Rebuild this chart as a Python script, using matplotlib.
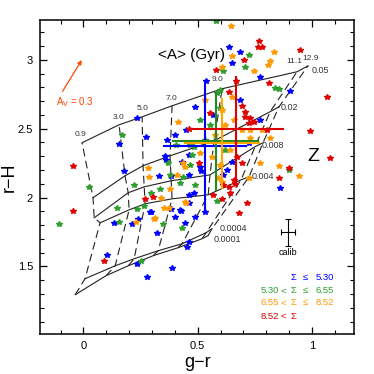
import matplotlib
matplotlib.use('Agg')
import matplotlib.pyplot as plt
from matplotlib.ticker import MultipleLocator

plt.rcParams['font.family'] = ['Liberation Sans', 'DejaVu Sans']

ages = ['0.9', '3.0', '5.0', '7.0', '9.0', '11.1', '12.9']
metals = ['0.0001', '0.0004', '0.004', '0.008', '0.02', '0.05']

# model grid, one row per metallicity, one column per age
grid_gr = [
    [-0.036, 0.099, 0.196, 0.305, 0.414, 0.519, 0.545],
    [0.007, 0.139, 0.222, 0.327, 0.432, 0.537, 0.563],
    [0.073, 0.200, 0.270, 0.388, 0.546, 0.690, 0.725],
    [0.047, 0.196, 0.266, 0.384, 0.554, 0.751, 0.786],
    [0.042, 0.182, 0.261, 0.379, 0.572, 0.817, 0.856],
    [-0.006, 0.156, 0.257, 0.388, 0.607, 0.935, 0.983],
]
grid_rh = [
    [1.295, 1.433, 1.505, 1.578, 1.636, 1.701, 1.723],
    [1.411, 1.505, 1.556, 1.614, 1.665, 1.745, 1.774],
    [1.817, 1.911, 1.955, 1.991, 2.020, 2.129, 2.151],
    [1.853, 2.035, 2.078, 2.122, 2.165, 2.369, 2.398],
    [1.999, 2.158, 2.231, 2.303, 2.412, 2.623, 2.659],
    [2.398, 2.528, 2.586, 2.666, 2.790, 2.913, 2.956],
]

# galaxies, split by local density Sigma
blue_gr = [0.233, 0.157, 0.273, 0.178, 0.365, 0.357, 0.361, 0.332, 0.382, 0.463,
           0.635, 0.686, 0.650, 0.537, 0.774, 0.906, 0.489, 0.862, 0.686, 0.450,
           0.569, 0.774, 0.723, 0.431, 0.650, 0.628, 0.613, 0.460, 0.482, 0.489,
           0.533, 0.464, 0.445, 0.464, 0.134, 0.238, 0.211, 0.296, 0.384, 0.324,
           0.401, 0.425, 0.464, 0.102, 0.233, 0.277, 0.389, 0.455, 0.401, 0.511,
           0.515, 0.292, 0.423]
blue_rh = [2.579, 2.390, 2.443, 2.193, 2.419, 2.302, 2.273, 2.157, 2.159, 2.310,
           3.092, 3.060, 2.980, 2.847, 2.874, 2.770, 2.656, 2.068, 2.709, 2.491,
           2.600, 2.564, 2.395, 2.261, 2.261, 2.201, 2.164, 2.164, 2.031, 1.861,
           1.898, 1.680, 1.818, 1.959, 1.813, 1.844, 1.806, 1.893, 1.917, 1.741,
           1.857, 1.903, 2.019, 1.583, 1.515, 1.421, 1.491, 1.643, 2.455, 2.220,
           2.196, 1.898, 1.910]

green_gr = [0.169, 0.372, 0.423, 0.025, 0.221, 0.435, 0.580, 0.723, 0.613, 0.599,
            0.840, 0.854, 0.898, 0.708, 0.584, 0.599, 0.467, 0.482, 0.406, 0.467,
            0.489, 0.584, 0.431, 0.475, -0.109, 0.146, 0.233, 0.157, 0.265, 0.296,
            0.336, 0.350, 0.252, 0.379, 0.555, 0.533, 0.621, 0.511]
green_rh = [2.455, 2.254, 2.108, 2.077, 2.092, 2.152, 3.280, 3.036, 2.920, 2.782,
            2.794, 2.787, 2.201, 2.951, 2.758, 2.649, 2.382, 2.370, 2.382, 2.237,
            2.092, 1.975, 1.777, 2.310, 1.806, 1.927, 1.915, 1.823, 1.939, 2.031,
            2.060, 1.806, 1.541, 2.164, 2.528, 2.419, 2.346, 2.564]

orange_gr = [0.414, 0.436, 0.287, 0.379, 0.646, 0.650, 0.832, 0.815, 0.806, 0.745,
             0.606, 0.854, 0.771, 0.942, 0.650, 0.657, 0.694, 0.730, 0.782, 0.730,
             0.445, 0.562, 0.409, 0.818, 0.723, 0.606, 0.591, 0.450, 0.230, 0.340,
             0.354, 0.376, 0.311, 0.446, 0.511, 0.284, 0.314, 0.607, 0.621, 0.577,
             0.643, 0.599, 0.533]
orange_rh = [2.549, 2.254, 2.152, 2.063, 3.247, 3.024, 3.053, 2.988, 2.964, 2.920,
             2.951, 2.232, 2.249, 2.157, 2.733, 2.564, 2.491, 2.491, 2.491, 2.431,
             2.225, 2.297, 2.164, 2.431, 2.140, 2.111, 2.140, 1.963, 1.820, 1.995,
             1.927, 1.927, 1.844, 1.970, 2.322, 2.213, 1.850, 2.637, 2.528, 2.455,
             2.346, 2.237, 2.709]

red_gr = [-0.047, 0.463, 0.767, 0.762, 0.782, 0.950, 0.701, 0.581, 0.669, 0.811,
          1.064, 0.993, 1.078, 0.635, 0.694, 0.555, 0.708, 0.708, 0.730, 0.745,
          0.723, 0.804, 0.672, 0.694, 0.898, 0.635, 0.854, 0.716, 0.679, 0.606,
          0.569, 0.643, 0.613, 0.657, 0.270, 0.304, 0.090, 0.504, -0.047, 0.664]
red_rh = [2.230, 2.499, 3.133, 3.092, 3.092, 3.068, 3.000, 2.927, 2.847, 2.835,
          2.733, 2.486, 2.290, 2.765, 2.661, 2.613, 2.624, 2.588, 2.576, 2.552,
          2.540, 2.491, 2.297, 2.249, 2.213, 2.079, 2.145, 1.963, 1.886, 1.990,
          2.019, 2.031, 2.092, 2.128, 1.988, 2.007, 1.539, 2.249, 1.900, 2.099]

# mean and spread of each density bin
bin_gr = [0.532, 0.579, 0.607, 0.668]
bin_rh = [2.371, 2.407, 2.395, 2.499]
bin_gr_err = [0.182, 0.190, 0.166, 0.210]
bin_rh_err = [0.475, 0.356, 0.330, 0.381]

colors = ['#0000ff', '#2e9e2e', '#ff9900', '#e00000']
bar_colors = ['#0000ff', '#228b22', '#ffa500', '#dd0000']

fig = plt.figure(figsize=(3.74, 3.74), dpi=100)
ax = fig.add_axes([0.107, 0.107, 0.840, 0.840])

# metallicity tracks (solid) and isochrones (dashed)
for i in range(len(metals)):
    ax.plot(grid_gr[i], grid_rh[i], color='#222222', lw=0.8, zorder=1)
for j in range(len(ages)):
    ax.plot([row[j] for row in grid_gr], [row[j] for row in grid_rh],
            color='#222222', lw=0.8, dashes=(7, 4), zorder=1)

age_lab_x = [-0.012, 0.152, 0.257, 0.386, 0.588, 0.922, 0.992]
age_lab_y = [2.461, 2.584, 2.649, 2.722, 2.855, 2.990, 3.009]
for a, x, y in zip(ages, age_lab_x, age_lab_y):
    ax.text(x, y, a, fontsize=6, ha='center', va='center', color='#333333')

z_lab_x = [0.572, 0.598, 0.734, 0.782, 0.864, 0.999]
z_lab_y = [1.694, 1.774, 2.153, 2.378, 2.652, 2.920]
for z, x, y in zip(metals, z_lab_x, z_lab_y):
    ax.text(x, y, z, fontsize=6.5, ha='left', va='center', color='#333333')

for gr, rh, c in zip([blue_gr, green_gr, orange_gr, red_gr],
                     [blue_rh, green_rh, orange_rh, red_rh], colors):
    ax.plot(gr, rh, ls='none', marker='*', ms=3.8, color=c, mec=c, zorder=2)

for k in range(4):
    ax.errorbar(bin_gr[k], bin_rh[k], xerr=bin_gr_err[k], yerr=bin_rh_err[k],
                fmt='none', ecolor=bar_colors[k], elinewidth=1.5, capsize=0, zorder=3)

# calibration error
ax.errorbar(0.897, 1.748, xerr=0.031, yerr=0.10, fmt='none', ecolor='black',
            elinewidth=0.8, capsize=2, capthick=0.8)
ax.text(0.897, 1.60, 'calib', fontsize=6.5, ha='center', va='center')

# reddening vector
ax.annotate('', xy=(-0.001, 3.015), xytext=(-0.098, 2.753),
            arrowprops=dict(arrowstyle='-|>', color='#ff4500', lw=0.9,
                            mutation_scale=6))
ax.text(-0.119, 2.695, r'A$_\mathrm{V}$ = 0.3', fontsize=7, color='#ff4500',
        ha='left', va='center')

ax.text(0.471, 3.036, '<A> (Gyr)', fontsize=11, ha='center', va='center')
ax.text(1.005, 2.296, 'Z', fontsize=14, ha='center', va='center')

# density legend
rows = [['', '', 'Σ', '≤', '5.30'],
        ['5.30', '<', 'Σ', '≤', '6.55'],
        ['6.55', '<', 'Σ', '≤', '8.52'],
        ['8.52', '<', 'Σ', '', '']]
col_x = [0.731, 0.776, 0.807, 0.846, 0.907]
row_y = [0.179, 0.137, 0.099, 0.057]
for row, y, c in zip(rows, row_y, colors):
    for s, x in zip(row, col_x):
        ax.text(x, y, s, fontsize=6.8, color=c, ha='center', va='center',
                transform=ax.transAxes)

ax.set_xlim(-0.19, 1.185)
ax.set_ylim(1.01, 3.29)
ax.set_xticks([0, 0.5, 1])
ax.set_xticklabels(['0', '0.5', '1'])
ax.set_yticks([1.5, 2, 2.5, 3])
ax.set_yticklabels(['1.5', '2', '2.5', '3'])
ax.xaxis.set_minor_locator(MultipleLocator(0.1))
ax.yaxis.set_minor_locator(MultipleLocator(0.1))
ax.tick_params(which='both', direction='in', top=True, right=True, labelsize=8, pad=5)
ax.tick_params(which='major', length=5, width=0.9)
ax.tick_params(which='minor', length=3, width=0.8)
for s in ax.spines.values():
    s.set_linewidth(1.1)

ax.set_xlabel('g−r', fontsize=13)
ax.set_ylabel('r−H', fontsize=13)
ax.xaxis.set_label_coords(0.5, -0.065)
ax.yaxis.set_label_coords(-0.07, 0.5)

fig.savefig('out.png', dpi=100)
